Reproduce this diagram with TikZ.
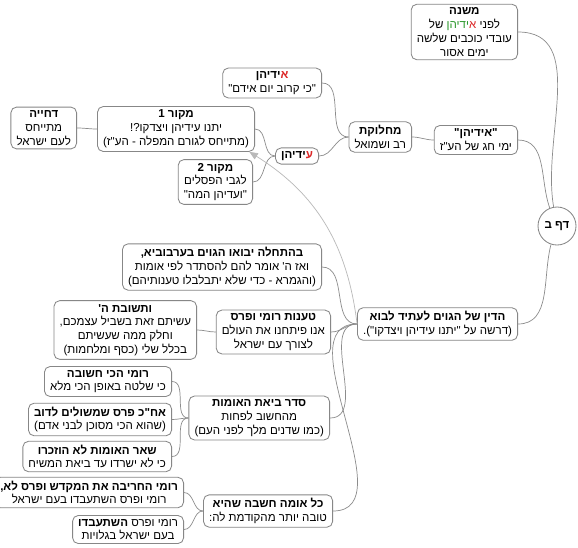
\documentclass[tikz,border=0pt]{standalone}
\usepackage{fontspec}
\usepackage{xcolor}
\usepackage{tikz}
\usetikzlibrary{arrows.meta, positioning}
\TeXXeTstate=1
\setmainfont{Liberation Sans}
\newfontfamily\hebfont[Script=Hebrew]{Liberation Sans}
\definecolor{mygrey}{RGB}{135,135,135}
\definecolor{mylink}{RGB}{140,140,140}
\definecolor{myarrow}{RGB}{185,185,185}
\definecolor{myred}{RGB}{220,40,40}
\definecolor{mygreen}{RGB}{40,150,40}
\newcommand{\rl}[1]{\beginR#1\endR}
\tikzset{
  topic/.style={rectangle, draw=mygrey, fill=white, rounded corners=4pt,
    align=center, font=\hebfont\fontsize{8.2}{9.8}\selectfont,
    inner xsep=4pt, inner ysep=2.5pt, line width=0.6pt, anchor=east},
  rootnode/.style={circle, draw=mygrey, fill=white, minimum size=0.95cm,
    inner sep=0pt, font=\hebfont\bfseries\fontsize{8.2}{9.8}\selectfont, line width=0.6pt},
  link/.style={draw=mylink, line width=0.5pt},
  crossarrow/.style={-{Triangle[length=6pt,width=5pt,fill=myarrow]}, draw=myarrow, line width=0.5pt}
}

\begin{document}
\begin{tikzpicture}[x=0.025cm, y=-0.025cm]
  \path[use as bounding box, fill=white] (0,0) rectangle (578,547);

  % root and first level
  \node[rootnode] (root) at (557,226) {\rl{דף ב}};
  % coloured lines are written in visual order (left to right)
  \node[topic] (mishna) at (518,32) {\rl{\textbf{משנה}}\\ של \textcolor{mygreen}{ידיהן}\textcolor{myred}{א} לפני\\ \rl{עובדי כוכבים שלשה}\\ \rl{ימים אסור}};
  \node[topic] (qidihen) at (518,140) {\rl{\textbf{"אידיהן"}}\\ \rl{ימי חג של הע"ז}};
  \node[topic] (hadin) at (518,324) {\rl{\textbf{הדין של הגוים לעתיד לבוא}}\\ \rl{(דרשה על "יתנו עידיהן ויצדקו").}};

  % upper branch
  \node[topic] (machloket) at (412,137) {\rl{\textbf{מחלוקת}}\\ \rl{רב ושמואל}};
  \node[topic] (idihen) at (322,83) {\textbf{ידיהן\textcolor{myred}{א}}\\ \rl{"כי קרוב יום אידם"}};
  \node[topic] (edihen) at (319,156) {\textbf{ידיהן\textcolor{myred}{ע}}};
  \node[topic] (makor1) at (255,129) {\rl{\textbf{מקור 1}}\\ \rl{יתנו עידיהן ויצדקו?!}\\ \rl{(מתייחס לגורם המפלה - הע"ז)}};
  \node[topic] (makor2) at (253,182) {\rl{\textbf{מקור 2}}\\ \rl{לגבי הפסלים}\\ \rl{"ועדיהן המה"}};
  \node[topic] (dchiya) at (77,128) {\rl{\textbf{דחייה}}\\ \rl{מתייחס}\\ \rl{לעם ישראל}};

  % lower branch
  \node[topic] (bahatchala) at (322,267) {\rl{\textbf{בהתחלה יבואו הגוים בערבוביא,}}\\ \rl{ואז ה' אומר להם להסתדר לפי אומות}\\ \rl{(והגמרא - כדי שלא יתבלבלו טענותיהם)}};
  \node[topic] (taanot) at (331,332) {\rl{\textbf{טענות רומי ופרס}}\\ \rl{אנו פיתחנו את העולם}\\ \rl{לצורך עם ישראל}};
  \node[topic] (teshuvat) at (197,330) {\rl{\textbf{ותשובת ה'}}\\ \rl{עשיתם זאת בשביל עצמכם,}\\ \rl{וחלק ממה שעשיתם}\\ \rl{בכלל שלי (כסף ומלחמות)}};
  \node[topic] (seder) at (330,418) {\rl{\textbf{סדר ביאת האומות}}\\ \rl{מהחשוב לפחות}\\ \rl{(כמו שדנים מלך לפני העם)}};
  \node[topic] (romi1) at (172,381.5) {\rl{\textbf{רומי הכי חשובה}}\\ \rl{כי שלטה באופן הכי מלא}};
  \node[topic] (achar) at (172,419.5) {\rl{\textbf{אח"כ פרס שמשולים לדוב}}\\ \rl{(שהוא הכי מסוכן לבני אדם)}};
  \node[topic] (shear) at (172,456.5) {\rl{\textbf{שאר האומות לא הוזכרו}}\\ \rl{כי לא ישרדו עד ביאת המשיח}};
  \node[topic] (kol) at (333,511) {\rl{\textbf{כל אומה חשבה שהיא}}\\ \rl{טובה יותר מהקודמת לה:}};
  \node[topic] (heriva) at (184,492.5) {\rl{\textbf{רומי החריבה את המקדש ופרס לא,}}\\ \rl{רומי ופרס השתעבדו בעם ישראל}};
  \node[topic] (galuyot) at (184,529.5) {\rl{רומי ופרס \textbf{השתעבדו}}\\ \rl{בעם ישראל בגלויות}};

  % connectors
  \draw[link] (root.100) to[out=100,in=0] (mishna.east);
  \draw[link] (root.112) to[out=110,in=0] (qidihen.east);
  \draw[link] (root.252) to[out=255,in=0] (hadin.east);
  \draw[link] (qidihen.west) to[out=180,in=0] (machloket.east);
  \draw[link] (machloket.west) to[out=180,in=0] (idihen.east);
  \draw[link] (machloket.west) to[out=180,in=0] (edihen.east);
  \draw[link] (edihen.west) to[out=180,in=0] (makor1.east);
  \draw[link] (edihen.west) to[out=180,in=0] (makor2.east);
  \draw[link] (makor1.west) to[out=180,in=0] (dchiya.east);
  \draw[link] (hadin.west) to[out=180,in=0] (bahatchala.east);
  \draw[link] (hadin.west) to[out=180,in=0] (taanot.east);
  \draw[link] (hadin.west) to[out=180,in=0] (seder.east);
  \draw[link] (hadin.west) to[out=180,in=0] (kol.east);
  \draw[link] (taanot.west) to[out=180,in=0] (teshuvat.east);
  \draw[link] (seder.west) to[out=180,in=0] (romi1.east);
  \draw[link] (seder.west) to[out=180,in=0] (achar.east);
  \draw[link] (seder.west) to[out=180,in=0] (shear.east);
  \draw[link] (kol.west) to[out=180,in=0] (heriva.east);
  \draw[link] (kol.west) to[out=180,in=0] (galuyot.east);

  \draw[crossarrow] (hadin.west) to[out=97,in=-32] ([xshift=-4pt]makor1.south east);
\end{tikzpicture}
\end{document}
